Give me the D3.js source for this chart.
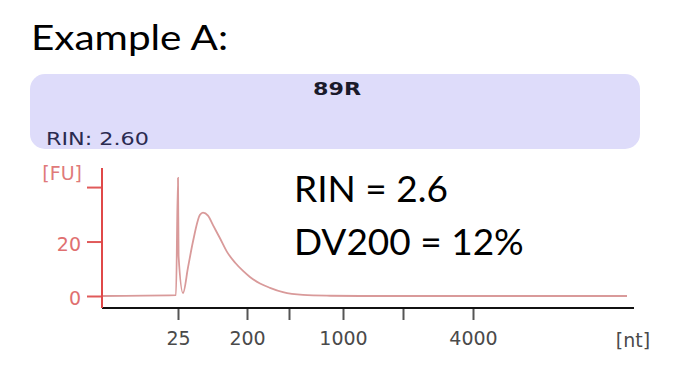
<!DOCTYPE html>
<html>
<head>
<meta charset="utf-8">
<script src="https://cdn.jsdelivr.net/npm/d3@7"></script>
<style>
  body { margin: 0; background: #fff; }
  svg { display: block; }
</style>
</head>
<body>
<svg id="chart" width="680" height="386"></svg>
<script>
// electropherogram trace, size in nt vs fluorescence in FU
const sizes = [10, 24.6, 25, 26.5, 37.7, 50.4, 63, 80.8, 88.4, 101, 113.8, 131.5, 149.3, 170, 190, 221, 293, 364, 457, 630, 880, 1280, 7850];
const fu    = [0, 0.3, 43.4, 14.7, 1.1, 10.5, 20, 29.8, 30.6, 29.5, 26, 21.2, 16.2, 12.2, 9.2, 7, 4.6, 3, 1.4, 0.4, 0.1, 0, 0];

// bioanalyzer ladder axis is not linear or log, so the scale is piecewise
const ladder = [10, 25, 200, 500, 1000, 2000, 4000, 8000];
const ladderPos = [0, 76, 145, 187, 241, 301, 371, 531];
const xTicks = [25, 200, 500, 1000, 2000, 4000];
const xLabels = [25, 200, 1000, 4000];
const yTicks = [0, 20, 40];
const yLabels = [0, 20];

const sampleName = '89R';
const rinLabel = 'RIN: 2.60';
const notes = ['RIN = 2.6', 'DV200 = 12%'];

const svg = d3.select('#chart');
const left = 102, axisY = 308;
const smallFont = '"DejaVu Sans", Verdana, sans-serif';

const x = d3.scaleLinear()
  .domain(ladder)
  .range(ladderPos.map(p => left + p));

const y = d3.scaleLinear()
  .domain([0, 47])
  .range([296, 168]);

// title
svg.append('text')
  .attr('x', 31).attr('y', 50)
  .attr('font-family', 'Lato, "Open Sans", sans-serif')
  .attr('font-size', 35)
  .attr('textLength', 197)
  .attr('lengthAdjust', 'spacingAndGlyphs')
  .attr('fill', '#000')
  .text('Example A:');

// sample header panel
svg.append('rect')
  .attr('x', 30).attr('y', 74)
  .attr('width', 610).attr('height', 75)
  .attr('rx', 15)
  .attr('fill', '#dedcfa');

svg.append('text')
  .attr('x', 337).attr('y', 95)
  .attr('text-anchor', 'middle')
  .attr('font-family', smallFont)
  .attr('font-weight', 'bold')
  .attr('font-size', 18)
  .attr('textLength', 48)
  .attr('lengthAdjust', 'spacingAndGlyphs')
  .attr('fill', '#1a1a2a')
  .text(sampleName);

svg.append('text')
  .attr('x', 46).attr('y', 145)
  .attr('font-family', smallFont)
  .attr('font-size', 18)
  .attr('textLength', 103)
  .attr('lengthAdjust', 'spacingAndGlyphs')
  .attr('fill', '#2a2a50')
  .text(rinLabel);

// trace
const line = d3.line()
  .x((d, i) => x(sizes[i]))
  .y(d => y(d))
  .curve(d3.curveMonotoneX);

svg.append('path')
  .attr('d', line(fu))
  .attr('fill', 'none')
  .attr('stroke', '#d99a9a')
  .attr('stroke-width', 1.8);

// x axis
const xAxis = d3.axisBottom(x)
  .tickValues(xTicks)
  .tickSize(12)
  .tickPadding(12)
  .tickFormat(d => xLabels.includes(d) ? d : '');

const gx = svg.append('g')
  .attr('transform', `translate(0,${axisY})`)
  .call(xAxis);
gx.select('.domain').remove();
gx.selectAll('.tick line').attr('stroke', '#555').attr('stroke-width', 2);
gx.selectAll('.tick text')
  .attr('font-family', smallFont)
  .attr('font-size', 19)
  .attr('fill', '#4a4a4a');

svg.append('line')
  .attr('x1', left).attr('x2', x(8000) + 1)
  .attr('y1', axisY).attr('y2', axisY)
  .attr('stroke', '#111').attr('stroke-width', 2);

svg.append('text')
  .attr('x', 633).attr('y', 347)
  .attr('text-anchor', 'middle')
  .attr('font-family', smallFont)
  .attr('font-size', 19)
  .attr('fill', '#4a4a4a')
  .text('[nt]');

// y axis
const yAxis = d3.axisLeft(y)
  .tickValues(yTicks)
  .tickSize(15)
  .tickPadding(6)
  .tickFormat(d => yLabels.includes(d) ? d : '');

const gy = svg.append('g')
  .attr('transform', `translate(${left},0)`)
  .call(yAxis);
gy.select('.domain').remove();
gy.selectAll('.tick line').attr('stroke', '#e05a5a').attr('stroke-width', 2);
gy.selectAll('.tick text')
  .attr('font-family', smallFont)
  .attr('font-size', 19)
  .attr('dy', '0.45em')
  .attr('fill', '#e07070');

svg.append('line')
  .attr('x1', left).attr('x2', left)
  .attr('y1', 168).attr('y2', axisY)
  .attr('stroke', '#e04848').attr('stroke-width', 2);

svg.append('text')
  .attr('x', 82).attr('y', 180)
  .attr('text-anchor', 'end')
  .attr('font-family', smallFont)
  .attr('font-size', 19)
  .attr('fill', '#e07a7a')
  .text('[FU]');

// annotation
svg.selectAll('text.note')
  .data(notes)
  .join('text')
  .attr('class', 'note')
  .attr('x', 294)
  .attr('y', (d, i) => 202 + i * 53)
  .attr('font-family', 'Lato, "Open Sans", sans-serif')
  .attr('font-size', 37)
  .attr('fill', '#000')
  .text(d => d);
</script>
</body>
</html>
